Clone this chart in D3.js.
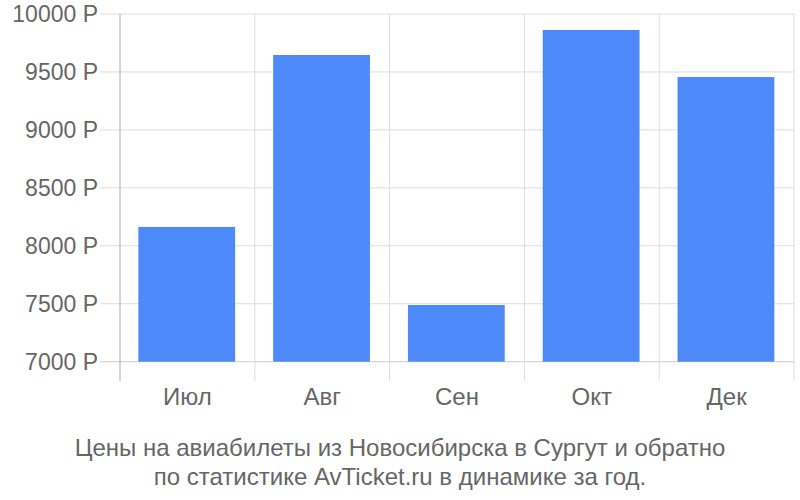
<!DOCTYPE html>
<html><head><meta charset="utf-8">
<script src="https://cdn.jsdelivr.net/npm/d3@7"></script>
<style>body{margin:0;background:#fff}svg{display:block;font-family:"Liberation Sans",Arial,sans-serif}</style>
</head><body><svg id="c" width="800" height="500"></svg>
<script>
const categories = ["Июл","Авг","Сен","Окт","Дек"];
const values = [8163, 9646, 7489, 9862, 9456];
const yTicks = [7000,7500,8000,8500,9000,9500,10000];
const titleLines = ["Цены на авиабилеты из Новосибирска в Сургут и обратно","по статистике AvTicket.ru в динамике за год."];

const svg = d3.select("#c");
const L=120, R=794, T=14, B=361.7;
const x = d3.scaleBand().domain(categories).range([L,R]).padding(0);
const y = d3.scaleLinear().domain([7000,10000]).range([B,T]);

// horizontal grid + tick marks
svg.append("g").selectAll("line").data(yTicks).join("line")
  .attr("x1",100).attr("x2",R).attr("y1",d=>y(d)).attr("y2",d=>y(d))
  .attr("stroke",d=>d===7000?"#ccc":"#ddd").attr("stroke-width",1);
// vertical grid
const vx = categories.map(c=>x(c)+x.bandwidth());
svg.append("g").selectAll("line").data(vx).join("line")
  .attr("x1",d=>d).attr("x2",d=>d).attr("y1",T).attr("y2",381)
  .attr("stroke","#ddd").attr("stroke-width",1);
// axis line
svg.append("line").attr("x1",L).attr("x2",L).attr("y1",T).attr("y2",381)
  .attr("stroke","#aaa").attr("stroke-width",1);

// bars
svg.append("g").selectAll("rect").data(categories).join("rect")
  .attr("x",c=>x(c)+x.bandwidth()*0.136)
  .attr("width",x.bandwidth()*0.718)
  .attr("y",(c,i)=>y(values[i]))
  .attr("height",(c,i)=>B-y(values[i]))
  .attr("fill","#4d89f9");

// y labels
svg.append("g").selectAll("text").data(yTicks).join("text")
  .attr("x",98).attr("y",d=>y(d)).attr("dy","0.35em")
  .attr("text-anchor","end").attr("font-size",23).attr("fill","#666")
  .text(d=>d+" Р");
// x labels
svg.append("g").selectAll("text").data(categories).join("text")
  .attr("x",c=>x(c)+x.bandwidth()/2).attr("y",397).attr("dy","0.35em")
  .attr("text-anchor","middle").attr("font-size",24).attr("fill","#666")
  .text(c=>c);
// title
svg.append("g").selectAll("text").data(titleLines).join("text")
  .attr("x",400).attr("y",(d,i)=>448+i*29).attr("dy","0.35em")
  .attr("text-anchor","middle").attr("font-size",24).attr("fill","#666")
  .text(d=>d);
</script></body></html>
